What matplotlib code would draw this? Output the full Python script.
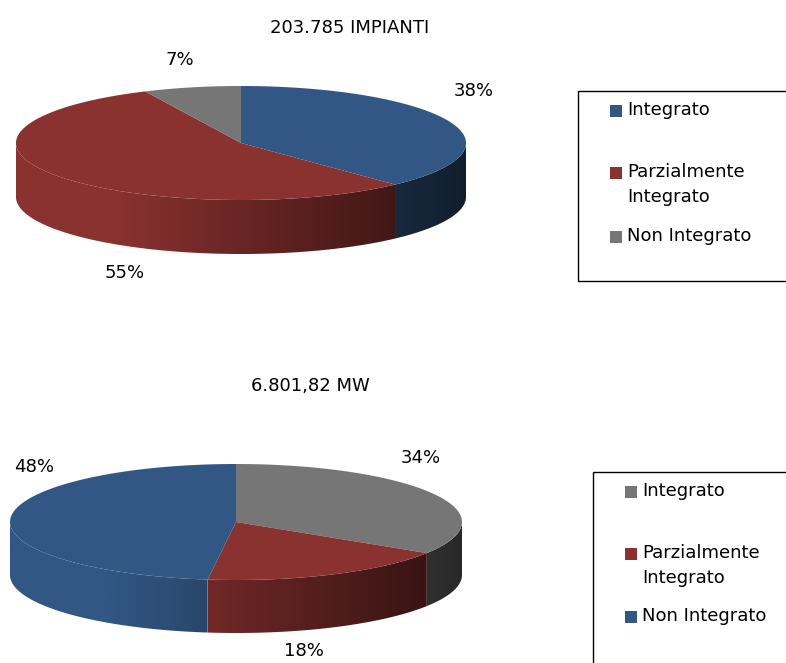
import numpy as np
import matplotlib
matplotlib.use("Agg")
from matplotlib import pyplot as plt
from matplotlib.patches import Polygon, Rectangle

# data
labels = ['Integrato', 'Parzialmente\nIntegrato', 'Non Integrato']
top_title = '203.785 IMPIANTI'
top_values = [38, 55, 7]
top_colors = ['#325784', '#8A3230', '#767676']
bottom_title = '6.801,82 MW'
bottom_values = [34, 18, 48]
bottom_colors = ['#767676', '#8A3230', '#325784']

plt.rcParams['font.family'] = 'DejaVu Sans'


def shade(x, cx, a):
    # darker toward the right of the side wall
    c = np.clip((x - cx) / a, -1, 1)
    return np.clip(0.76 - 0.42 * c, 0, 1)


def draw_pie(ax, values, colors, cx, cy, a, b, depth):
    total = float(sum(values))
    start = 90.0
    for v, col in zip(values, colors):
        end = start - 360.0 * v / total
        rgb = np.array(matplotlib.colors.to_rgb(col))
        # side wall, visible part is -180..0
        lo, hi = max(end, -180.0), min(start, 0.0)
        if hi > lo:
            phi = np.radians(np.linspace(hi, lo, 200))
            xs = cx + a * np.cos(phi)
            ys = cy - b * np.sin(phi)
            pts = np.vstack([np.column_stack([xs, ys]),
                             np.column_stack([xs[::-1], ys[::-1] + depth])])
            poly = Polygon(pts, closed=True, facecolor='none', edgecolor='none')
            ax.add_patch(poly)
            x0, x1 = xs.min(), xs.max()
            y0, y1 = ys.min(), ys.max() + depth
            cols = np.linspace(x0, x1, 300)
            img = (rgb[None, :] * shade(cols, cx, a)[:, None])[None, :, :]
            img = np.repeat(img, 2, axis=0)
            im = ax.imshow(img, extent=[x0, x1, y1, y0], aspect='auto',
                           interpolation='bilinear', zorder=1)
            im.set_clip_path(poly)
        # top face
        phi = np.radians(np.linspace(start, end, 200))
        xs = cx + a * np.cos(phi)
        ys = cy - b * np.sin(phi)
        pts = np.vstack([[cx, cy], np.column_stack([xs, ys])])
        ax.add_patch(Polygon(pts, closed=True, facecolor=col, edgecolor='none',
                             zorder=2))
        start = end


def draw_legend(ax, colors, x, y, w, h, rows):
    ax.add_patch(Rectangle((x, y), w, h, facecolor='white', edgecolor='black',
                           linewidth=1.0, zorder=3, clip_on=False))
    for lab, col, ty in zip(labels, colors, rows):
        ax.add_patch(Rectangle((x + 32, ty - 6), 12, 12, facecolor=col,
                               edgecolor='none', zorder=4))
        ax.text(x + 49, ty - 10, lab, fontsize=13, va='top', ha='left',
                linespacing=1.5, zorder=4)


fig = plt.figure(figsize=(7.86, 6.63), dpi=100)
ax = fig.add_axes([0, 0, 1, 1])
ax.set_xlim(0, 786)
ax.set_ylim(663, 0)
ax.axis('off')

# top chart
ax.text(350, 28, top_title, fontsize=13, ha='center', va='center')
draw_pie(ax, top_values, top_colors, 241, 143, 225, 57, 54)
top_pos = [(474, 91), (125, 273), (180, 60)]
for v, (px, py) in zip(top_values, top_pos):
    ax.text(px, py, '%d%%' % v, fontsize=13, ha='center', va='center')
draw_legend(ax, top_colors, 578, 91, 230, 190, [111, 173, 237])

# bottom chart
ax.text(310, 386, bottom_title, fontsize=13, ha='center', va='center')
draw_pie(ax, bottom_values, bottom_colors, 236, 522, 226, 58, 53)
bottom_pos = [(421, 458), (304, 651), (34, 467)]
for v, (px, py) in zip(bottom_values, bottom_pos):
    ax.text(px, py, '%d%%' % v, fontsize=13, ha='center', va='center')
draw_legend(ax, bottom_colors, 593, 472, 230, 200, [492, 554, 617])

fig.savefig('out.png', dpi=100)
